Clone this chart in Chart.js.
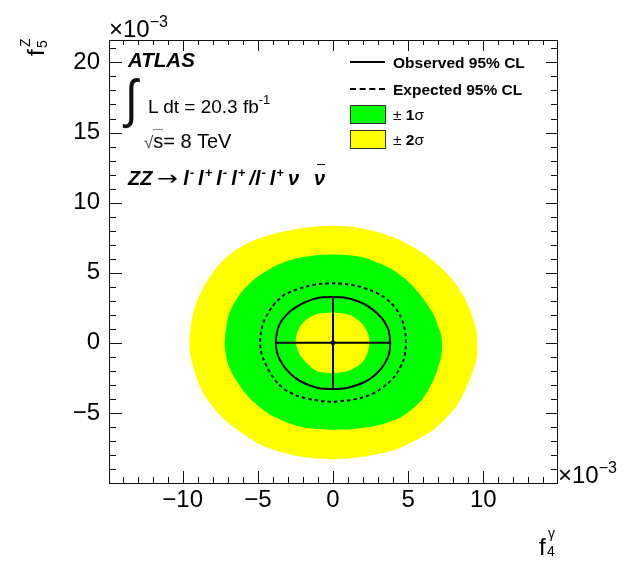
<!DOCTYPE html>
<html>
<head>
<meta charset="utf-8">
<title>f4 gamma / f5 Z limits</title>
<script src="https://cdn.jsdelivr.net/npm/chart.js@4.4.0/dist/chart.umd.min.js"></script>
<style>
  body { margin: 0; background: #fff; }
  #wrap { position: relative; width: 635px; height: 561px; font-family: "Liberation Sans", Arial, Helvetica, sans-serif; color: #000; overflow: hidden; }
  #wrap canvas { position: absolute; left: 0; top: 0; }
  .txt { position: absolute; white-space: nowrap; line-height: 1; }
  .bi { font-weight: bold; font-style: italic; }
  .b { font-weight: bold; }
  .up { position: relative; font-size: 0.65em; top: -0.6em; }
  .zz .up { margin-left: 1px; margin-right: 4px; }
  .arrow { display: inline-block; font-family: "DejaVu Sans", sans-serif; font-weight: normal; font-style: normal; transform: scaleX(1.25); margin: 0 7px 0 7px; }
  .bar { position: relative; }
  .bar:before { content: ""; position: absolute; left: 3px; right: 0px; top: -3px; border-top: 1.5px solid #000; }
  .sq { border-top: 1px solid #888; }
  .sample { position: absolute; }
</style>
</head>
<body>
<div id="wrap">
  <canvas id="chart" width="635" height="561"></canvas>

  <!-- axis multipliers -->
  <div class="txt" style="font-size:24px; left:109px; top:17px;">×10<span class="up" style="font-size:16px; top:-10px;">−3</span></div>
  <div class="txt" style="font-size:24px; left:558px; top:463px;">×10<span class="up" style="font-size:16px; top:-10px;">−3</span></div>

  <!-- axis titles -->
  <div class="txt" style="font-size:24px; left:539px; top:535px;">f</div>
  <div class="txt" style="font-size:14px; left:548px; top:526px;">γ</div>
  <div class="txt" style="font-size:14px; left:547px; top:544px;">4</div>

  <div style="position:absolute; left:24px; top:56px; transform:rotate(-90deg); transform-origin:0 0;">
    <div class="txt" style="font-size:24px; left:0px; top:0px;">f</div>
    <div class="txt" style="font-size:14px; left:9px; top:-6px;">Z</div>
    <div class="txt" style="font-size:14px; left:8px; top:11px;">5</div>
  </div>

  <!-- labels -->
  <div class="txt bi" style="font-size:20.5px; left:128px; top:50px;">ATLAS</div>
  <div class="txt" style="font-size:46px; left:125px; top:72px; transform:scaleY(1.15); transform-origin:0 0; color:#111;">∫</div>
  <div class="txt" style="font-size:19px; left:148px; top:97px;">L dt = 20.3 fb<span class="up" style="font-size:13px; top:-9px;">-1</span></div>
  <div class="txt" style="font-size:20px; left:144px; top:131px;"><span style="font-size:17px; color:#444;">√</span><span class="sq">s</span>= 8 TeV</div>
  <div class="txt bi zz" style="font-size:20px; left:128px; top:168px;">ZZ<span class="arrow">→</span>l<span class="up">-</span>l<span class="up">+</span>l<span class="up">-</span>l<span class="up">+</span>/l<span class="up">-</span>l<span class="up">+</span>ν<span class="bar" style="margin-left:15px;">ν</span></div>

  <!-- legend -->
  <div class="sample" style="left:350px; top:61px; width:35px; border-top:2px solid #000;"></div>
  <div class="txt b" style="font-size:15.5px; left:393px; top:55px;">Observed 95% CL</div>
  <div class="sample" style="left:350px; top:88px; width:35px; border-top:2px dashed #000;"></div>
  <div class="txt b" style="font-size:15.5px; left:393px; top:82px;">Expected 95% CL</div>
  <div class="sample" style="left:350px; top:105px; width:34px; height:17px; background:#00ff00; border:1px solid #333;"></div>
  <div class="txt" style="font-size:15.5px; left:393px; top:107px;">± <span class="b">1</span>σ</div>
  <div class="sample" style="left:350px; top:130px; width:34px; height:17px; background:#ffff00; border:1px solid #333;"></div>
  <div class="txt" style="font-size:15.5px; left:393px; top:132px;">± <span class="b">2</span>σ</div>
</div>

<script>
// axis ranges and labelled ticks (units of 10^-3)
var xRange = [-14.9, 14.9]
var yRange = [-10, 21.6]
var xTicks = [-10, -5, 0, 5, 10]
var yTicks = [-5, 0, 5, 10, 15, 20]

// contours as [f4gamma, f5Z] points, going round counter-clockwise
var band2Outer = [
  [9.6, 0], [9.55, 0.8], [9.35, 1.6], [9.1, 2.4], [8.75, 3.2], [8.3, 4.0], [7.7, 4.8], [7.0, 5.55],
  [6.1, 6.3], [5.2, 6.9], [4.3, 7.4], [3.3, 7.8], [2.2, 8.1], [1.1, 8.3], [0, 8.35],
  [-1.1, 8.3], [-2.2, 8.15], [-3.2, 7.95], [-4.3, 7.65], [-5.4, 7.25], [-6.3, 6.75], [-7.0, 6.2],
  [-7.6, 5.55], [-8.1, 4.85], [-8.6, 4.0], [-9.0, 3.1], [-9.25, 2.3], [-9.4, 1.6], [-9.5, 0.8],
  [-9.55, 0], [-9.5, -0.85], [-9.3, -1.7], [-9.05, -2.55], [-8.75, -3.35], [-8.3, -4.15],
  [-7.75, -4.9], [-7.15, -5.55], [-6.5, -6.1], [-5.7, -6.7], [-4.75, -7.3], [-3.6, -7.75],
  [-2.3, -8.1], [-1.1, -8.25], [0, -8.3], [1.1, -8.25], [2.2, -8.1], [3.4, -7.85], [4.45, -7.5],
  [5.6, -6.9], [6.7, -6.2], [7.5, -5.4], [8.2, -4.55], [8.65, -3.7], [9.0, -2.9], [9.3, -2.05],
  [9.55, -1.2], [9.6, -0.5]
]
var band1Outer = [
  [7.25, 0], [7.2, 0.6], [7.0, 1.15], [6.75, 1.9], [6.35, 2.6], [5.9, 3.3], [5.35, 4.0], [4.7, 4.65],
  [4.0, 5.2], [3.1, 5.65], [2.2, 6.05], [1.1, 6.25], [0, 6.3], [-1.1, 6.25], [-2.1, 6.1],
  [-3.0, 5.85], [-3.9, 5.45], [-4.7, 4.95], [-5.4, 4.4], [-5.9, 3.85], [-6.3, 3.3], [-6.65, 2.7],
  [-6.9, 2.1], [-7.05, 1.4], [-7.15, 0.7], [-7.2, 0], [-7.15, -0.7], [-7.0, -1.45], [-6.7, -2.2],
  [-6.3, -2.9], [-5.9, -3.5], [-5.4, -4.1], [-4.7, -4.75], [-3.9, -5.3], [-3.0, -5.7], [-2.1, -6.0],
  [-1.0, -6.15], [0, -6.2], [1.4, -6.15], [2.7, -5.95], [3.6, -5.7], [4.45, -5.35], [5.25, -4.75],
  [5.9, -4.1], [6.35, -3.35], [6.7, -2.6], [6.95, -1.9], [7.15, -1.2], [7.25, -0.6]
]
var band1Inner = [
  [2.45, 0], [2.38, 0.5], [2.2, 0.95], [1.95, 1.35], [1.65, 1.65], [1.3, 1.9], [0.9, 2.05],
  [0.45, 2.13], [0, 2.15], [-0.5, 2.13], [-1.0, 2.07], [-1.35, 1.93], [-1.65, 1.75], [-1.95, 1.48],
  [-2.2, 1.15], [-2.35, 0.8], [-2.45, 0.45], [-2.48, 0.15], [-2.45, -0.15], [-2.35, -0.5],
  [-2.2, -0.85], [-1.95, -1.22], [-1.65, -1.55], [-1.35, -1.83], [-1.0, -2.05], [-0.5, -2.13],
  [0, -2.15], [0.45, -2.12], [0.9, -2.05], [1.35, -1.85], [1.8, -1.55], [2.05, -1.25],
  [2.2, -0.95], [2.33, -0.6], [2.4, -0.25]
]
var expected95 = [
  [4.85, 0], [4.82, 0.65], [4.7, 1.3], [4.5, 1.85], [4.25, 2.35], [3.85, 2.85], [3.35, 3.3],
  [2.6, 3.7], [1.8, 4.0], [0.9, 4.18], [0, 4.25], [-0.85, 4.2], [-1.65, 4.05], [-2.45, 3.8],
  [-3.2, 3.45], [-3.7, 3.0], [-4.1, 2.5], [-4.4, 1.95], [-4.65, 1.4], [-4.8, 0.7], [-4.85, 0],
  [-4.8, -0.55], [-4.65, -1.1], [-4.4, -1.7], [-4.1, -2.3], [-3.7, -2.85], [-3.2, -3.35],
  [-2.45, -3.75], [-1.65, -4.0], [-0.8, -4.15], [0, -4.2], [0.9, -4.12], [1.8, -3.95],
  [2.5, -3.7], [3.1, -3.35], [3.65, -2.9], [4.1, -2.4], [4.45, -1.8], [4.7, -1.2], [4.82, -0.6]
]
var observed95 = [
  [3.8, 0], [3.77, 0.5], [3.68, 0.95], [3.5, 1.35], [3.28, 1.7], [2.98, 2.05], [2.6, 2.4],
  [2.1, 2.75], [1.5, 3.02], [0.9, 3.2], [0.45, 3.25], [0, 3.27], [-0.6, 3.25], [-1.2, 3.15],
  [-1.8, 2.92], [-2.35, 2.62], [-2.8, 2.28], [-3.15, 1.92], [-3.4, 1.6], [-3.6, 1.2], [-3.72, 0.75],
  [-3.78, 0.35], [-3.8, 0], [-3.76, -0.5], [-3.63, -0.98], [-3.42, -1.42], [-3.15, -1.85],
  [-2.82, -2.22], [-2.45, -2.55], [-2.0, -2.83], [-1.5, -3.05], [-1.0, -3.22], [-0.5, -3.28],
  [0, -3.3], [0.5, -3.28], [1.0, -3.2], [1.5, -3.05], [2.0, -2.85], [2.45, -2.58], [2.85, -2.25],
  [3.2, -1.85], [3.48, -1.4], [3.68, -0.95], [3.78, -0.48]
]
// best fit point and the observed one-dimensional limits through it
var bestFit = [0, 0]
var crossX = [-3.8, 3.8]
var crossY = [-3.3, 3.27]

var yellow = '#ffff00'
var green = '#00ff00'

function closed(list) {
  var pts = list.map(function(p) { return { x: p[0], y: p[1] } })
  pts.push(pts[0])
  return pts
}

function band(list, color, order) {
  return {
    data: closed(list),
    showLine: true,
    fill: 'shape',
    backgroundColor: color,
    borderColor: 'rgba(0,0,0,0)',
    borderWidth: 1,
    pointRadius: 0,
    tension: 0.2,
    order: order
  }
}

// ROOT style frame with ticks pointing inwards on all four sides
var frameTicks = {
  id: 'frameTicks',
  afterDatasetsDraw: function(chart) {
    var ctx = chart.ctx, a = chart.chartArea
    var sx = chart.scales.x, sy = chart.scales.y
    ctx.save()
    ctx.strokeStyle = '#111'
    ctx.lineWidth = 1
    ctx.beginPath()
    for (var v = Math.ceil(xRange[0]); v <= Math.floor(xRange[1]); v++) {
      var px = Math.round(sx.getPixelForValue(v)) + 0.5
      var major = v % 5 === 0
      ctx.moveTo(px, a.bottom); ctx.lineTo(px, a.bottom - (major ? 12 : 6))
      ctx.moveTo(px, a.top); ctx.lineTo(px, a.top + (major ? 11 : 5))
    }
    for (var w = Math.ceil(yRange[0]) + 1; w <= Math.floor(yRange[1]); w++) {
      var py = Math.round(sy.getPixelForValue(w)) + 0.5
      var maj = w % 5 === 0
      ctx.moveTo(a.left, py); ctx.lineTo(a.left + (maj ? 13 : 7), py)
      ctx.moveTo(a.right, py); ctx.lineTo(a.right - (maj ? 11 : 6), py)
    }
    ctx.stroke()
    ctx.strokeRect(Math.round(a.left) + 0.5, Math.round(a.top) + 0.5, Math.round(a.right - a.left), Math.round(a.bottom - a.top))
    ctx.restore()
  }
}

function minus(v) {
  return v < 0 ? '\u2212' + Math.abs(v) : String(v)
}

var ctx = document.getElementById('chart').getContext('2d')
var myChart = new Chart(ctx, {
  type: 'scatter',
  data: {
    datasets: [
      band(band2Outer, yellow, 6),
      band(band1Outer, green, 5),
      band(band1Inner, yellow, 4),
      {
        data: closed(expected95),
        showLine: true,
        borderColor: '#000',
        borderWidth: 2,
        borderDash: [3.5, 3],
        pointRadius: 0,
        tension: 0.2,
        order: 3
      },
      {
        data: closed(observed95),
        showLine: true,
        borderColor: '#000',
        borderWidth: 2,
        pointRadius: 0,
        tension: 0.2,
        order: 2
      },
      {
        data: [{ x: crossX[0], y: bestFit[1] }, { x: crossX[1], y: bestFit[1] }],
        showLine: true, borderColor: '#000', borderWidth: 2, pointRadius: 0, order: 1
      },
      {
        data: [{ x: bestFit[0], y: crossY[0] }, { x: bestFit[0], y: crossY[1] }],
        showLine: true, borderColor: '#000', borderWidth: 2, pointRadius: 0, order: 1
      },
      {
        data: [{ x: bestFit[0], y: bestFit[1] }],
        pointRadius: 2, backgroundColor: '#000', borderColor: '#000', order: 0
      }
    ]
  },
  options: {
    responsive: false,
    animation: false,
    events: [],
    devicePixelRatio: 1,
    layout: { padding: { left: 0, top: 40, right: 78, bottom: 0 } },
    plugins: {
      legend: { display: false },
      tooltip: { enabled: false }
    },
    scales: {
      x: {
        type: 'linear',
        min: xRange[0],
        max: xRange[1],
        grid: { display: false, drawTicks: false },
        border: { display: false },
        afterBuildTicks: function(scale) { scale.ticks = xTicks.map(function(v) { return { value: v } }) },
        afterFit: function(scale) { scale.height = 78 },
        ticks: {
          color: '#000',
          padding: 3,
          maxRotation: 0,
          font: { family: '"Liberation Sans", Arial, sans-serif', size: 24 },
          callback: function(v) { return minus(v) }
        }
      },
      y: {
        type: 'linear',
        min: yRange[0],
        max: yRange[1],
        grid: { display: false, drawTicks: false },
        border: { display: false },
        afterBuildTicks: function(scale) { scale.ticks = yTicks.map(function(v) { return { value: v } }) },
        afterFit: function(scale) { scale.width = 109 },
        ticks: {
          color: '#000',
          padding: 9,
          font: { family: '"Liberation Sans", Arial, sans-serif', size: 24 },
          callback: function(v) { return minus(v) }
        }
      }
    }
  },
  plugins: [frameTicks]
})
</script>
</body>
</html>
